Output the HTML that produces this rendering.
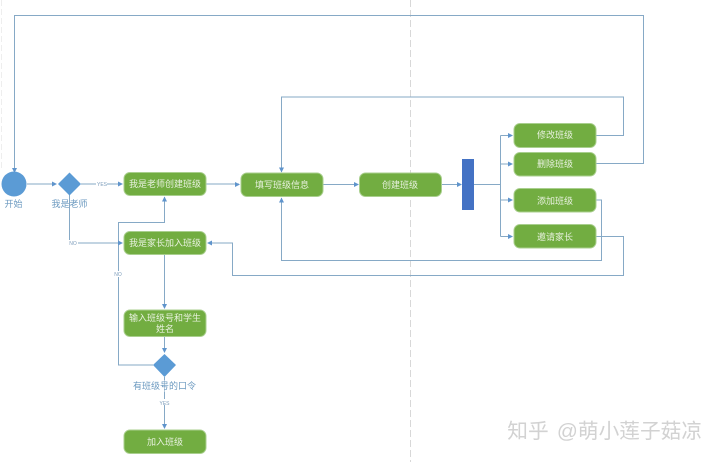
<!DOCTYPE html>
<html>
<head>
<meta charset="utf-8">
<style>
html,body{margin:0;padding:0;background:#fff;}
svg{display:block;}
text{font-family:"Liberation Sans","Noto Sans CJK SC",sans-serif;text-anchor:middle;}
.n{fill:#72ad41;stroke:#a9cf8e;stroke-width:1;}
.t{fill:#e8f1df;font-size:9px;}
.l{fill:#6c9ac0;font-size:9px;}
.s{fill:#7d9dbb;font-size:5px;}
.c{fill:none;stroke:#86a9c6;stroke-width:1;}
.a{fill:#5f94cc;}
</style>
</head>
<body>
<svg width="720" height="462" viewBox="0 0 720 462" xmlns="http://www.w3.org/2000/svg">
<rect width="720" height="462" fill="#fff"/>
<line x1="1.500" y1="0" x2="1.500" y2="170" stroke="#eee" stroke-width="1" stroke-dasharray="6 3"/>
<line x1="410.500" y1="0" x2="410.500" y2="462" stroke="#d8d8d8" stroke-width="1" stroke-dasharray="7 3"/>

<!-- connectors -->
<path class="c" d="M14.500 168V15.500H643.500V163.500H596"/>
<path class="c" d="M27 184H56"/>
<path class="c" d="M81 184H122"/>
<path class="c" d="M69.500 195V243H122"/>
<path class="c" d="M206 184H239"/>
<path class="c" d="M323 184.500H358"/>
<path class="c" d="M441 184.500H461"/>
<path class="c" d="M474 184.500H500.500"/>
<path class="c" d="M500.500 135.500V236.500"/>
<path class="c" d="M500.500 135.500H512M500.500 164H512M500.500 200H512M500.500 236.500H512"/>
<path class="c" d="M596 135.500H623.500V97H281.500V172"/>
<path class="c" d="M596 200H601.500V260.500H281.500V198"/>
<path class="c" d="M596 236.500H623.500V275.500H232.500V243H208"/>
<path class="c" d="M164.500 255V308"/>
<path class="c" d="M164.500 337V352"/>
<path class="c" d="M164.500 377V428"/>
<path class="c" d="M153 365H118.500V222.500H164.500V197"/>

<!-- arrowheads -->
<path class="a" d="M14.500 173l-2.500-5h5z"/>
<path class="a" d="M57 184l-5-2.500v5z"/>
<path class="a" d="M123 184l-5-2.500v5z"/>
<path class="a" d="M123 243l-5-2.500v5z"/>
<path class="a" d="M240 184.500l-5-2.500v5z"/>
<path class="a" d="M359 184.500l-5-2.500v5z"/>
<path class="a" d="M462 184.500l-5-2.500v5z"/>
<path class="a" d="M513 135.500l-5-2.500v5z"/>
<path class="a" d="M513 164l-5-2.500v5z"/>
<path class="a" d="M513 200l-5-2.500v5z"/>
<path class="a" d="M513 236.500l-5-2.500v5z"/>
<path class="a" d="M281.500 172.500l-2.500-5h5z"/>
<path class="a" d="M281.500 197.500l-2.500 5h5z"/>
<path class="a" d="M207 243l5-2.500v5z"/>
<path class="a" d="M164.500 309l-2.500-5h5z"/>
<path class="a" d="M164.500 353l-2.500-5h5z"/>
<path class="a" d="M164.500 429l-2.500-5h5z"/>
<path class="a" d="M164.500 196.500l-2.500 5h5z"/>

<!-- start and diamonds -->
<circle cx="14" cy="184" r="12.500" fill="#5b9bd5"/>
<path d="M69.500 172.500L81 184L69.500 195.500L58 184z" fill="#5b9bd5"/>
<path d="M164.500 354L176 365L164.500 377L153 365z" fill="#5b9bd5"/>
<rect x="462" y="159" width="12" height="51" fill="#4472c4"/>

<!-- nodes -->
<rect class="n" x="124" y="172.500" width="82" height="23" rx="6"/>
<rect class="n" x="124" y="231.500" width="82" height="23" rx="6"/>
<rect class="n" x="241" y="173" width="82" height="23.500" rx="6"/>
<rect class="n" x="359.500" y="173" width="82" height="23.500" rx="6"/>
<rect class="n" x="124" y="310" width="82" height="26.500" rx="6"/>
<rect class="n" x="124" y="430" width="82" height="23.500" rx="6"/>
<rect class="n" x="514" y="123.500" width="82" height="24" rx="6"/>
<rect class="n" x="514" y="152.500" width="82" height="23.500" rx="6"/>
<rect class="n" x="514" y="188.500" width="82" height="23.500" rx="6"/>
<rect class="n" x="514" y="224.500" width="82" height="23.500" rx="6"/>

<!-- label backgrounds -->
<rect x="96" y="181" width="11" height="6" fill="#fff"/>
<rect x="68" y="240" width="10" height="6" fill="#fff"/>
<rect x="112" y="271" width="12" height="6" fill="#fff"/>
<rect x="158" y="399" width="12" height="6" fill="#fff"/>
<rect x="132" y="380" width="40" height="12" fill="#fff" fill-opacity="0.4"/>

<!-- labels -->
<text class="l" x="13.500" y="207">开始</text>
<text class="l" x="69.500" y="207">我是老师</text>
<text class="l" x="164.500" y="389">有班级号的口令</text>
<text class="s" x="102" y="186">YES</text>
<text class="s" x="73" y="245">NO</text>
<text class="s" x="118" y="276">NO</text>
<text class="s" x="164.500" y="405">YES</text>

<text class="t" x="165" y="187">我是老师创建班级</text>
<text class="t" x="165" y="246">我是家长加入班级</text>
<text class="t" x="282" y="188">填写班级信息</text>
<text class="t" x="400" y="188">创建班级</text>
<text class="t" x="165" y="321">输入班级号和学生</text>
<text class="t" x="165" y="332">姓名</text>
<text class="t" x="165" y="445">加入班级</text>
<text class="t" x="555" y="138">修改班级</text>
<text class="t" x="555" y="167">删除班级</text>
<text class="t" x="555" y="204">添加班级</text>
<text class="t" x="555" y="240">邀请家长</text>

<!-- watermark -->
<text x="528" y="438" style="font-size:20.7px;fill:#d2d2d2">知乎</text>
<text x="629.500" y="438" style="font-size:20.7px;fill:#d2d2d2">@萌小莲子菇凉</text>
</svg>
</body>
</html>
